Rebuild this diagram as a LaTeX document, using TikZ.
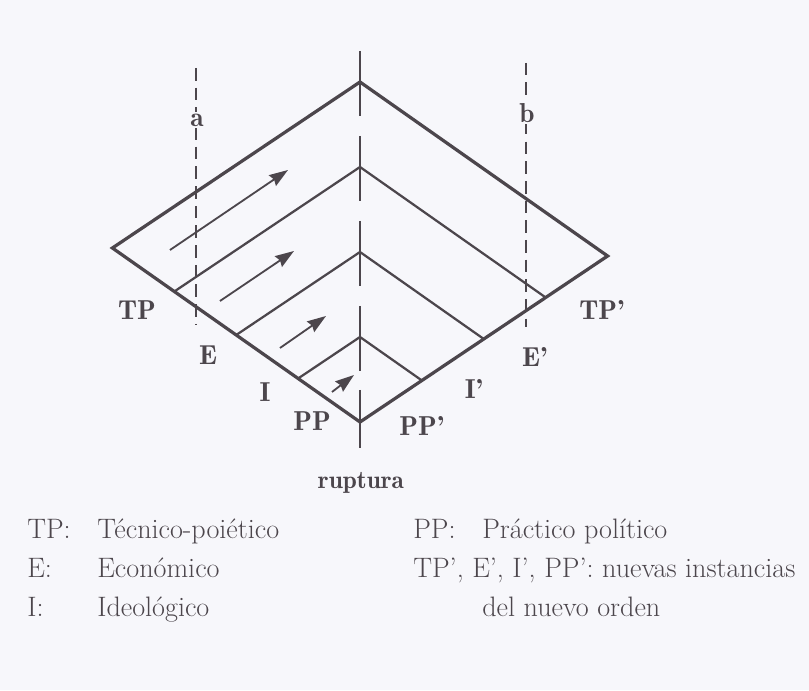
\documentclass[tikz,border=0pt]{standalone}
\usetikzlibrary{arrows.meta}

\definecolor{paperbg}{RGB}{247,247,251}
\definecolor{inkgray}{RGB}{76,70,76}

\begin{document}
\begin{tikzpicture}[font=\fontsize{20}{24}\selectfont, color=inkgray,
    level/.style={line width=1.6pt, line join=miter},
    rim/.style={line width=2.3pt, line join=miter},
    tick/.style={line width=1.2pt},
    guide/.style={line width=1pt, dash pattern=on 9pt off 5pt},
    flow/.style={line width=1.3pt, -{Stealth[length=0.47cm, width=0.32cm, inset=0.05cm]}},
    tag/.style={font=\fontsize{19.5}{22}\fontseries{b}\selectfont, inner sep=1pt},
    legend/.style={anchor=base west, inner sep=0pt}]
  \def\ux{6.19}
  \def\uy{4.35}
  \def\vy{4.15}

  \fill[paperbg] (0,0) rectangle (20.225,17.25);
  \useasboundingbox (0,0) rectangle (20.225,17.25);

  \coordinate (bot) at (9.0,6.7);
  \foreach \k/\n in {1/tp,0.75/e,0.5/i,0.25/pp} {
    \coordinate (\n L) at ({9.0-\ux*\k},{6.7+\uy*\k});
    \coordinate (\n R) at ({9.0+\ux*\k},{6.7+\vy*\k});
    \coordinate (\n T) at (9.0,{6.7+(\uy+\vy)*\k});
  }

  \foreach \n in {tp,e,i,pp}
    \draw[tick] ([yshift=0.78cm]\n T) -- ([yshift=-0.85cm]\n T);
  \draw[tick] ([yshift=0.8cm]bot) -- ([yshift=-0.65cm]bot);

  \draw[rim] (tpL) -- (tpT) -- (tpR) -- (bot) -- cycle;
  \foreach \n in {e,i,pp}
    \draw[level] (\n L) -- (\n T) -- (\n R);

  \coordinate (atop) at (4.9,15.55);
  \coordinate (abot) at (4.9,9.125);
  \coordinate (btop) at (13.15,15.68);
  \coordinate (bbot) at (13.15,9.075);
  \draw[guide] (atop) -- (abot);
  \draw[guide] (btop) -- (bbot);
  \node[tag, fill=paperbg] (alab) at (4.925,14.25) {a};
  \node[tag, fill=paperbg] (blab) at (13.175,14.425) {b};

  \foreach \n/\sx/\sy/\tx/\ty in {1/4.25/11.0/7.2/13.0, 2/5.5/9.725/7.35/10.975,
                                  3/7.0/8.55/8.15/9.35, 4/8.3/7.45/8.85/7.875} {
    \coordinate (fs\n) at (\sx,\sy);
    \coordinate (ft\n) at (\tx,\ty);
    \draw[flow] (fs\n) -- (ft\n);
  }

  \node[tag] (tplab) at (3.425,9.5) {TP};
  \node[tag] (elab) at (5.2,8.375) {E};
  \node[tag] (ilab) at (6.625,7.45) {I};
  \node[tag] (pplab) at (7.8,6.725) {PP};
  \node[tag] (pp2lab) at (10.55,6.6) {PP'};
  \node[tag] (i2lab) at (11.85,7.525) {I'};
  \node[tag] (e2lab) at (13.375,8.325) {E'};
  \node[tag] (tp2lab) at (15.05,9.5) {TP'};
  \node[tag, anchor=base, font=\fontsize{18}{22}\fontseries{b}\selectfont] (rupt) at (9.025,5.05) {ruptura};

  \node[legend] (keytp) at (0.675,3.8) {TP:};
  \node[legend] (keye) at (0.675,2.825) {E:};
  \node[legend] (keyi) at (0.675,1.85) {I:};
  \node[legend] (txttp) at (2.425,3.8) {Técnico-poiético};
  \node[legend] (txte) at (2.425,2.825) {Económico};
  \node[legend] (txti) at (2.425,1.85) {Ideológico};
  \node[legend] (keypp) at (10.325,3.8) {PP:};
  \node[legend] (txtpp) at (12.05,3.8) {Práctico político};
  \node[legend] (keynew) at (10.325,2.825) {TP', E', I', PP': nuevas instancias};
  \node[legend] (txtnew) at (12.05,1.85) {del nuevo orden};
\end{tikzpicture}
\end{document}
